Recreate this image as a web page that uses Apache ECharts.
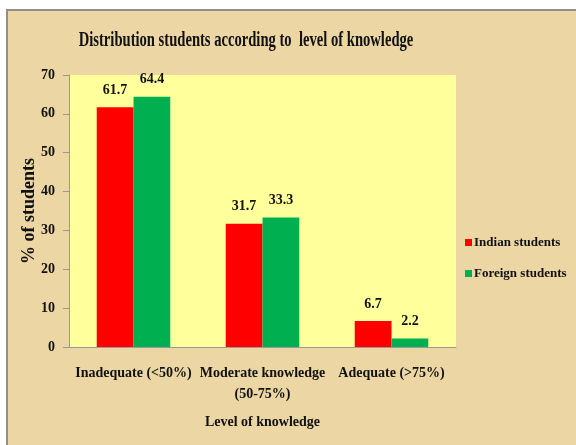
<!DOCTYPE html>
<html>
<head>
<meta charset="utf-8">
<script src="https://cdn.jsdelivr.net/npm/echarts@6/dist/echarts.min.js"></script>
<style>
html,body{margin:0;padding:0;background:#fff;}
#chart{width:576px;height:445px;}
</style>
</head>
<body>
<div id="chart"></div>
<script>
const categories = ['Inadequate (<50%)', 'Moderate knowledge\n(50-75%)', 'Adequate (>75%)'];
const indianStudents = [61.7, 31.7, 6.7];
const foreignStudents = [64.4, 33.3, 2.2];
const seriesNames = ['Indian students', 'Foreign students'];
const yTicks = [0, 10, 20, 30, 40, 50, 60, 70];
const titleText = 'Distribution students according to  level of knowledge';

const serif = '"Liberation Serif", "Times New Roman", serif';
const chart = echarts.init(document.getElementById('chart'));
chart.setOption({
  backgroundColor: '#EBD6A4',
  animation: false,
  graphic: [
    { type: 'rect', left: 0, top: 0, shape: { width: 576, height: 9 }, style: { fill: '#fff' }, z: -1 },
    { type: 'rect', left: 0, top: 0, shape: { width: 6, height: 445 }, style: { fill: '#fff' }, z: -1 },
    { type: 'rect', left: 6, top: 9, shape: { width: 570, height: 2 }, style: { fill: '#8f8f8f' }, z: -1 },
    { type: 'rect', left: 6, top: 9, shape: { width: 2, height: 436 }, style: { fill: '#8f8f8f' }, z: -1 },
    { type: 'text', x: 246, y: 41, scaleX: 0.73, z: 10,
      style: { text: titleText, fill: '#111', font: 'bold 20px ' + serif, textAlign: 'center', textVerticalAlign: 'middle' } }
  ],
  legend: {
    orient: 'vertical', left: 460, top: 231,
    itemWidth: 7, itemHeight: 7, itemGap: 18,
    icon: 'rect',
    textStyle: { fontFamily: serif, fontWeight: 'bold', fontSize: 13, color: '#111', padding: [0, 0, 0, -3] },
    data: seriesNames
  },
  grid: { left: 69, right: 120, top: 75, bottom: 98, show: true, backgroundColor: '#FFFF9C', borderWidth: 0 },
  xAxis: {
    type: 'category', data: categories,
    name: 'Level of knowledge', nameLocation: 'middle', nameGap: 68,
    nameTextStyle: { fontFamily: serif, fontWeight: 'bold', fontSize: 14, color: '#111' },
    axisLine: { lineStyle: { color: '#999', width: 1 } },
    axisTick: { show: false },
    axisLabel: { interval: 0, margin: 16, lineHeight: 21, fontFamily: serif, fontWeight: 'bold', fontSize: 14, color: '#111' }
  },
  yAxis: {
    type: 'value', min: 0, max: 70, interval: 10,
    name: '% of students', nameLocation: 'middle', nameGap: 31, nameRotate: 90, nameMoveOverlap: false,
    nameTextStyle: { fontFamily: serif, fontWeight: 'bold', fontSize: 18, color: '#111' },
    axisLine: { show: true, lineStyle: { color: '#999', width: 1 } },
    axisTick: { show: true, length: 6, lineStyle: { color: '#999' } },
    splitLine: { show: false },
    axisLabel: { margin: 14, fontFamily: serif, fontWeight: 'bold', fontSize: 14, color: '#111',
      formatter: v => yTicks.includes(v) ? String(v) : '' }
  },
  series: [
    { name: seriesNames[0], type: 'bar', data: indianStudents, barGap: '0%', barCategoryGap: '43%',
      itemStyle: { color: '#FF0000' },
      label: { show: true, position: 'top', distance: 10, fontFamily: serif, fontWeight: 'bold', fontSize: 14, color: '#111' } },
    { name: seriesNames[1], type: 'bar', data: foreignStudents, barGap: '0%', barCategoryGap: '43%',
      itemStyle: { color: '#00B050' },
      label: { show: true, position: 'top', distance: 10, fontFamily: serif, fontWeight: 'bold', fontSize: 14, color: '#111' } }
  ]
});
</script>
</body>
</html>
